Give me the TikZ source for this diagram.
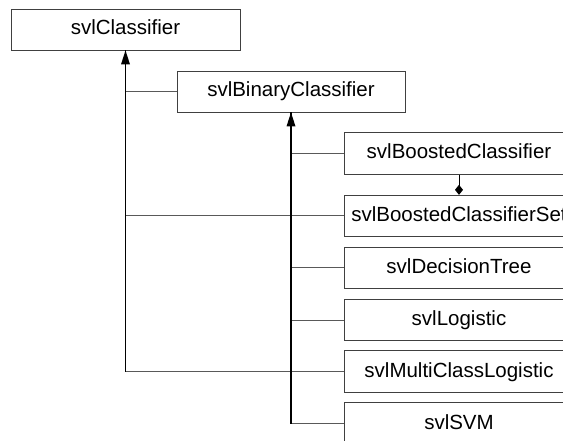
\documentclass[tikz,border=0pt]{standalone}
\usepackage{fontspec}
\setmainfont{Liberation Sans}
\usetikzlibrary{arrows.meta}
\begin{document}
\begin{tikzpicture}[x=1pt,y=-1pt,
  cbox/.style={draw=black!75, line width=0.8pt, fill=white, rectangle, inner sep=0pt,
    font=\fontsize{20.5}{24}\selectfont, text height=15pt, text depth=4pt},
  rbox/.style={cbox, minimum width=230pt, minimum height=41.5pt},
  edge/.style={draw=black!65, line width=1pt},
  trunk/.style={draw=black, line width=1.3pt},
  inh/.style={-{Triangle[width=9pt,length=14pt]}},
  comp/.style={draw=black, line width=0.9pt, -{Diamond[width=8pt,length=10pt]}}]
\useasboundingbox (0,0) rectangle (563,441);
\clip (0,0) rectangle (563,441);
\fill[white] (0,0) rectangle (563,441);
% nodes
\node[cbox, minimum width=229pt, minimum height=41pt] (cls) at (125.5,29.5) {svlClassifier};
\node[cbox, minimum width=228pt, minimum height=41pt] (bin) at (291,91.5) {svlBinaryClassifier};
\node[rbox] (boost) at (459,153.5) {svlBoostedClassifier};
\node[rbox] (set)   at (459,216)   {svlBoostedClassifierSet};
\node[rbox] (dt)    at (459,268)   {svlDecisionTree};
\node[rbox] (log)   at (459,320)   {svlLogistic};
\node[rbox] (mcl)   at (459,371.5) {svlMultiClassLogistic};
\node[rbox] (svm)   at (459,423.5) {svlSVM};
% inheritance edges
\draw[edge] (bin.west) -| (cls.south);
\draw[edge] (set.west) -| (cls.south);
\draw[edge] (mcl.west) -| (cls.south);
\draw[edge] (boost.west) -| (bin.south);
\draw[edge] (dt.west) -| (bin.south);
\draw[edge] (log.west) -| (bin.south);
\draw[edge] (svm.west) -| (bin.south);
% trunks with arrowheads
\draw[trunk] (cls.south |- mcl.west) -- (cls.south);
\draw[trunk] (bin.south |- svm.west) -- (bin.south);
\fill[black] (cls.south) -- ++(-4.5,14) -- ++(9,0) -- cycle;
\fill[black] (bin.south) -- ++(-4.5,14) -- ++(9,0) -- cycle;
% composition
\draw[comp] (boost.south) -- (set.north);
\end{tikzpicture}
\end{document}
